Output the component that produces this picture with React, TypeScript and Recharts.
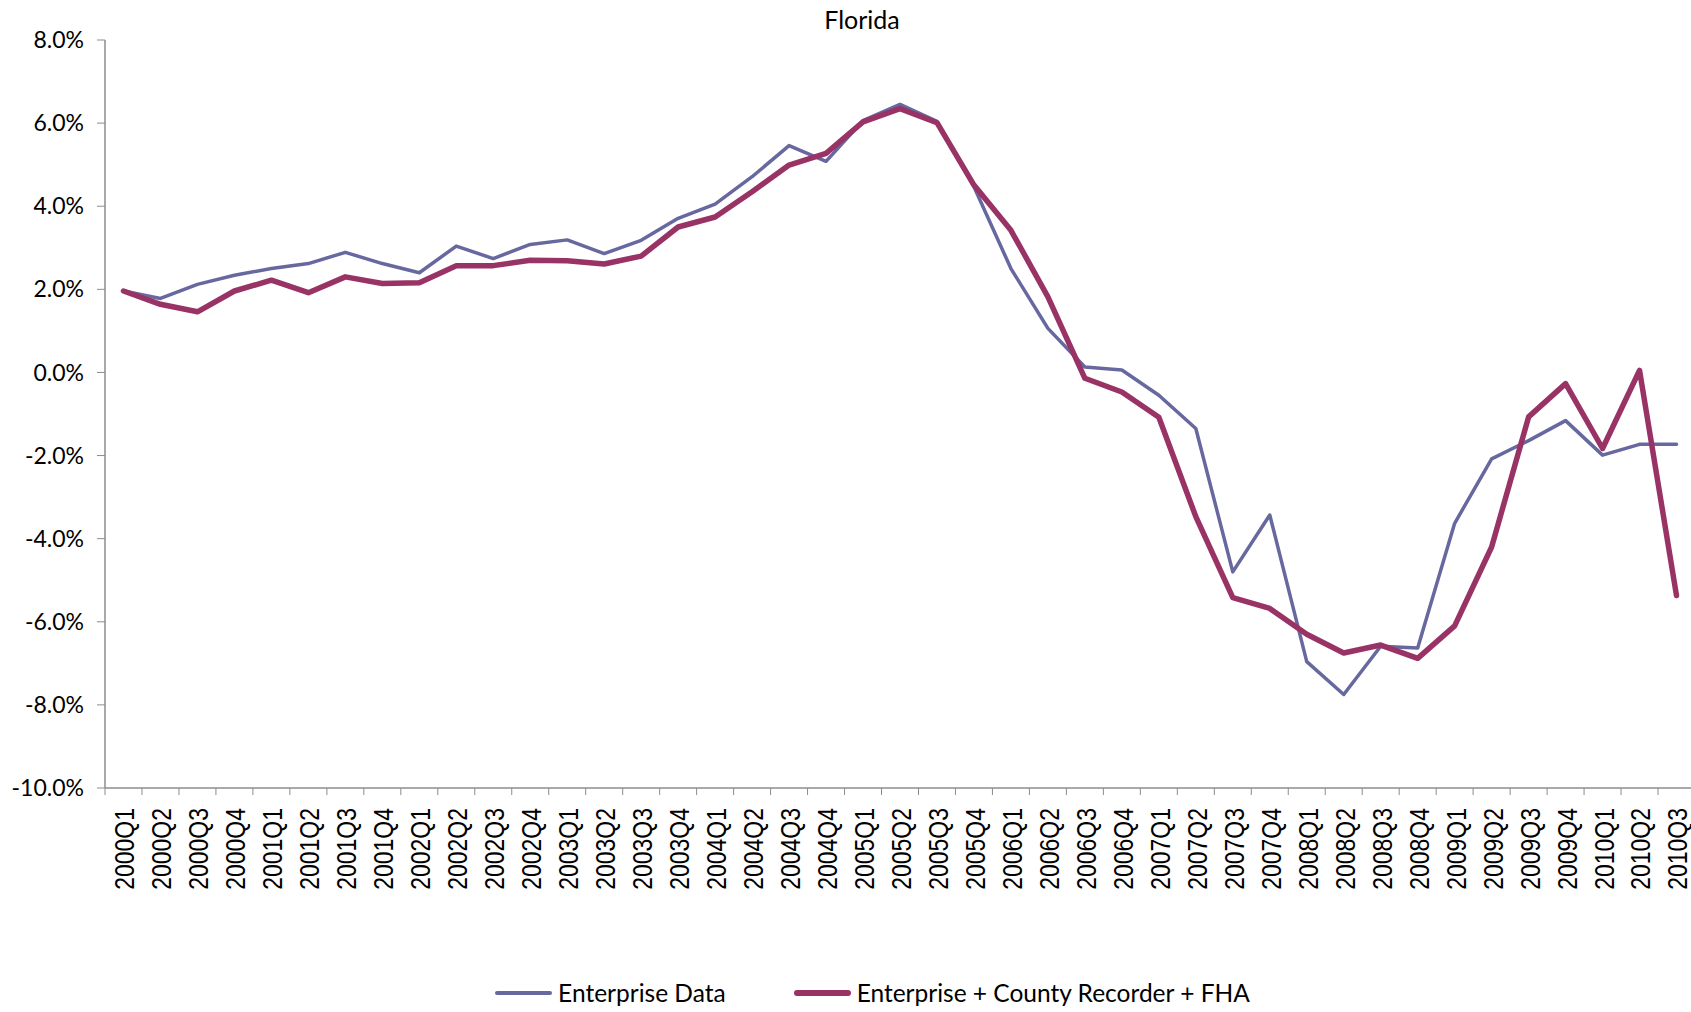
import { LineChart, Line, XAxis, YAxis, Legend } from 'recharts'

const QUARTERS = [
  '2000Q1', '2000Q2', '2000Q3', '2000Q4',
  '2001Q1', '2001Q2', '2001Q3', '2001Q4',
  '2002Q1', '2002Q2', '2002Q3', '2002Q4',
  '2003Q1', '2003Q2', '2003Q3', '2003Q4',
  '2004Q1', '2004Q2', '2004Q3', '2004Q4',
  '2005Q1', '2005Q2', '2005Q3', '2005Q4',
  '2006Q1', '2006Q2', '2006Q3', '2006Q4',
  '2007Q1', '2007Q2', '2007Q3', '2007Q4',
  '2008Q1', '2008Q2', '2008Q3', '2008Q4',
  '2009Q1', '2009Q2', '2009Q3', '2009Q4',
  '2010Q1', '2010Q2', '2010Q3',
]

// percent values
const ENTERPRISE = [
  1.96, 1.78, 2.12, 2.34, 2.5, 2.62, 2.89, 2.62, 2.4, 3.04, 2.74, 3.08,
  3.19, 2.86, 3.18, 3.71, 4.05, 4.71, 5.46, 5.08, 6.06, 6.45, 6.04, 4.47,
  2.5, 1.06, 0.13, 0.06, -0.55, -1.35, -4.8, -3.43, -6.96, -7.75, -6.59, -6.63,
  -3.63, -2.08, -1.64, -1.16, -1.99, -1.73, -1.73,
]

const ENTERPRISE_CR_FHA = [
  1.96, 1.64, 1.46, 1.96, 2.22, 1.92, 2.3, 2.14, 2.16, 2.57, 2.57, 2.7,
  2.69, 2.61, 2.8, 3.5, 3.74, 4.35, 4.99, 5.27, 6.03, 6.35, 6.01, 4.51,
  3.42, 1.82, -0.14, -0.47, -1.08, -3.47, -5.42, -5.68, -6.3, -6.75, -6.56, -6.88,
  -6.1, -4.2, -1.07, -0.27, -1.83, 0.05, -5.37,
]

const Y_TICKS = [-10, -8, -6, -4, -2, 0, 2, 4, 6, 8]

const SERIES = [
  { key: 'ent', name: 'Enterprise Data', color: '#67689f', width: 3.5 },
  { key: 'all', name: 'Enterprise + County Recorder + FHA', color: '#993366', width: 5.5 },
]

const data = QUARTERS.map((q, i) => ({ q, ent: ENTERPRISE[i], all: ENTERPRISE_CR_FHA[i] }))

const CHART_W = 1695
const Y_AXIS_W = 105
const BAND = (CHART_W - Y_AXIS_W) / QUARTERS.length
const AXIS_GRAY = '#8c8c8c'

function QuarterTick(props: any) {
  const { x, y, payload } = props
  return (
    <g>
      <line x1={x - BAND / 2} x2={x - BAND / 2} y1={y} y2={y + 7} stroke={AXIS_GRAY} />
      <text
        transform={`translate(${x + 1},${y + 20}) rotate(-90) scale(1,1.2)`}
        textAnchor="end"
        dy="0.36em"
        fontFamily="Liberation Sans, Arial"
        fontSize={23}
        fill="#000"
      >
        {payload.value}
      </text>
    </g>
  )
}

function LegendContent() {
  return (
    <div style={{ display: 'flex', justifyContent: 'center', paddingLeft: 54, fontFamily: 'Lato', fontSize: 24.5, color: '#000' }}>
      {SERIES.map((s, i) => (
        <div key={s.key} style={{ display: 'flex', alignItems: 'center', marginLeft: i ? 68 : 0 }}>
          <span style={{ display: 'inline-block', width: 57, height: s.width + 0.5, borderRadius: 3, background: s.color, marginRight: 6 }} />
          <span>{s.name}</span>
        </div>
      ))}
    </div>
  )
}

export default function App() {
  return (
    <div style={{ position: 'absolute', left: 0, top: 0, width: 1691, height: 1012, overflow: 'hidden', background: '#fff' }}>
      <div style={{ position: 'absolute', left: 0, top: 0, width: 1724, textAlign: 'center', fontFamily: 'Lato', fontSize: 25, lineHeight: '38px', color: '#000' }}>
        Florida
      </div>
      <LineChart width={CHART_W} height={1012} data={data} margin={{ top: 40, right: 0, bottom: 104, left: 0 }}>
        <XAxis
          dataKey="q"
          interval={0}
          height={120}
          padding={{ left: BAND / 2, right: BAND / 2 }}
          tickSize={0}
          tickMargin={0}
          tick={<QuarterTick />}
          axisLine={{ stroke: AXIS_GRAY, strokeWidth: 1.5 }}
        />
        <YAxis
          width={Y_AXIS_W}
          domain={[-10, 8]}
          ticks={Y_TICKS}
          interval={0}
          tickFormatter={(v: number) => `${v.toFixed(1)}%`}
          tickSize={8}
          tickMargin={13}
          tickLine={{ stroke: AXIS_GRAY }}
          axisLine={{ stroke: AXIS_GRAY, strokeWidth: 1.5 }}
          tick={{ fill: '#000', fontSize: 23, fontFamily: 'Lato' }}
        />
        <Legend
          layout="horizontal"
          verticalAlign="middle"
          align="center"
          content={<LegendContent />}
          wrapperStyle={{ top: 978, left: 0, width: 1691 }}
        />
        {SERIES.map((s) => (
          <Line
            key={s.key}
            dataKey={s.key}
            name={s.name}
            stroke={s.color}
            strokeWidth={s.width}
            strokeLinejoin="round"
            strokeLinecap="round"
            dot={false}
            activeDot={false}
            isAnimationActive={false}
          />
        ))}
      </LineChart>
    </div>
  )
}
